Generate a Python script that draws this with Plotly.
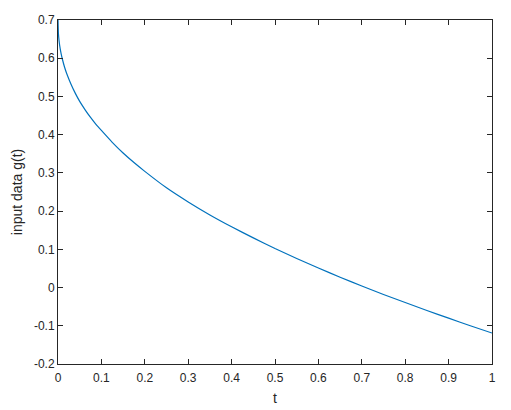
import plotly.graph_objects as go

# values
t = [0, 0.001, 0.0025, 0.005, 0.0075, 0.01, 0.015, 0.02, 0.03, 0.04, 0.05, 0.0625, 0.075,
     0.0875, 0.1, 0.125, 0.15, 0.175, 0.2, 0.25, 0.3, 0.35, 0.4, 0.45, 0.5, 0.55, 0.6,
     0.65, 0.7, 0.75, 0.8, 0.85, 0.9, 0.95, 1.0]
g = [0.700, 0.664, 0.645, 0.625, 0.610, 0.598, 0.577, 0.560, 0.532, 0.508, 0.487, 0.465,
     0.445, 0.427, 0.411, 0.380, 0.352, 0.327, 0.304, 0.261, 0.224, 0.190, 0.159, 0.130,
     0.102, 0.076, 0.051, 0.027, 0.004, -0.018, -0.039, -0.060, -0.080, -0.100, -0.119]

x_ticks = [0, 0.1, 0.2, 0.3, 0.4, 0.5, 0.6, 0.7, 0.8, 0.9, 1]
x_labels = ["0", "0.1", "0.2", "0.3", "0.4", "0.5", "0.6", "0.7", "0.8", "0.9", "1"]
y_ticks = [-0.2, -0.1, 0, 0.1, 0.2, 0.3, 0.4, 0.5, 0.6, 0.7]
y_labels = ["-0.2", "-0.1", "0", "0.1", "0.2", "0.3", "0.4", "0.5", "0.6", "0.7"]

ink = "#262626"
font = "Liberation Sans, Arial, sans-serif"

fig = go.Figure(go.Scatter(x=t, y=g, mode="lines",
                           line=dict(color="#0072BD", width=1.2, shape="spline", smoothing=0.5),
                           showlegend=False))

axis_common = dict(showline=True, linecolor=ink, linewidth=1, mirror="ticks",
                   ticks="inside", ticklen=5, tickcolor=ink, tickwidth=1,
                   showgrid=False, zeroline=False, automargin=False,
                   tickfont=dict(family=font, size=12, color=ink))

fig.update_xaxes(range=[0, 1], tickvals=x_ticks, ticktext=x_labels, ticklabelstandoff=3,
                 title=dict(text="t", font=dict(family=font, size=14, color=ink), standoff=8),
                 **axis_common)
fig.update_yaxes(range=[-0.2, 0.7], tickvals=y_ticks, ticktext=y_labels,
                 title=dict(text="input data g(t)", font=dict(family=font, size=14, color=ink),
                            standoff=8),
                 **axis_common)

# page body has an 8px margin, so the figure is a bit smaller than the window
fig.update_layout(width=503, height=402,
                  margin=dict(l=50, r=19, t=12, b=46),
                  plot_bgcolor="white", paper_bgcolor="white")

fig.write_html("out.html")
